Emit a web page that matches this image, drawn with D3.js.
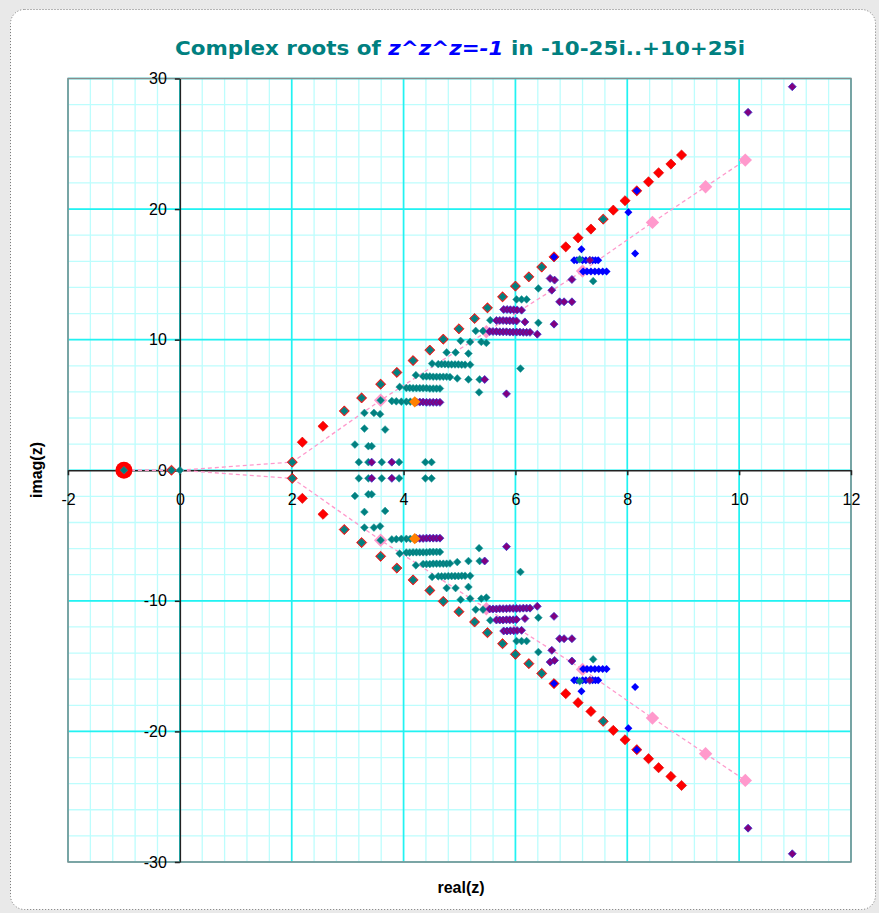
<!DOCTYPE html>
<html lang="en">
<head>
<meta charset="UTF-8">
<title>Complex roots of z^z^z=-1</title>
<script src="https://d3js.org/d3.v7.min.js"></script>
<style>
  body, html { margin: 0; padding: 0; background: #e9e9e9; }
  svg { display: block; }
  .tick text { font: 16px "Liberation Sans", Arial, sans-serif; fill: #000; }
  .axis-title { font: bold 16px "Liberation Sans", Arial, sans-serif; fill: #000; }
</style>
</head>
<body>
<div id="chart"></div>
<script>
// ---- data ----
const xTicks = [-2, 0, 2, 4, 6, 8, 10, 12];
const yTicks = [-30, -20, -10, 0, 10, 20, 30];

const redBig = [[-1, 0]];
const redUpper = [[-0.15,0],[2.01,0.62],[2.19,2.15],[2.56,3.37],[2.94,4.54],[3.25,5.54],[3.59,6.59],[3.88,7.49],[4.17,8.40],[4.47,9.20],[4.71,10.04],[4.99,10.83],[5.27,11.62],[5.50,12.44],[5.77,13.28],[6.00,14.10],[6.24,14.81],[6.47,15.56],[6.69,16.34],[6.90,17.11],[7.12,17.80],[7.35,18.47],[7.57,19.23],[7.75,19.92],[7.96,20.64],[8.17,21.40],[8.38,22.09],[8.56,22.78],[8.78,23.45],[8.97,24.14]];
const redLower = [[2.01,-0.62],[2.19,-2.15],[2.56,-3.37],[2.94,-4.54],[3.25,-5.54],[3.59,-6.59],[3.88,-7.49],[4.17,-8.40],[4.47,-9.20],[4.71,-10.04],[4.99,-10.83],[5.27,-11.62],[5.50,-12.44],[5.77,-13.28],[6.00,-14.10],[6.24,-14.81],[6.47,-15.56],[6.69,-16.34],[6.90,-17.11],[7.12,-17.80],[7.35,-18.47],[7.57,-19.23],[7.75,-19.92],[7.96,-20.64],[8.17,-21.40],[8.38,-22.09],[8.56,-22.78],[8.78,-23.45],[8.97,-24.14]];

const pinkPathUpper = [[-1,0],[0,0],[2.01,0.62],[3.59,5.36],[5.48,10.60],[7.20,15.25],[8.45,18.98],[9.40,21.71],[10.11,23.75]];
const pinkPathLower = [[-1,0],[0,0],[2.01,-0.62],[3.59,-5.36],[5.48,-10.60],[7.20,-15.25],[8.45,-18.98],[9.40,-21.71],[10.11,-23.75]];
const pinkMarks = [[3.59,5.36],[5.48,10.60],[7.20,15.25],[8.45,18.98],[9.40,21.71],[10.11,23.75],[3.59,-5.36],[5.48,-10.60],[7.20,-15.25],[8.45,-18.98],[9.40,-21.71],[10.11,-23.75]];

const blueUpper = [[8.17,21.40],[8.02,19.75],[8.14,16.60],[6.69,16.34],[7.18,16.93],
  [7.05,16.09],[7.10,16.09],[7.20,16.09],[7.26,16.09],[7.38,16.09],[7.43,16.09],[7.48,16.09],
  [7.21,15.22],[7.28,15.22],[7.35,15.22],[7.42,15.22],[7.49,15.22],[7.56,15.22],[7.63,15.22]];
const blueLower = [[8.17,-21.40],[8.02,-19.75],[8.14,-16.60],[6.69,-16.34],[7.18,-16.93],
  [7.05,-16.09],[7.10,-16.09],[7.20,-16.09],[7.26,-16.09],[7.38,-16.09],[7.43,-16.09],[7.48,-16.09],
  [7.21,-15.22],[7.28,-15.22],[7.35,-15.22],[7.42,-15.22],[7.49,-15.22],[7.56,-15.22],[7.63,-15.22]];

const tealAxis = [[-1,0],[-0.15,0],[0,0]];
const tealUpper = [[2.01,0.62],[2.94,4.54],[3.25,5.54],[3.59,6.59],[3.88,7.49],[4.17,8.40],[4.47,9.20],[4.71,10.04],[4.99,10.83],[5.27,11.62],[5.50,12.44],[5.77,13.28],[6.00,14.10],[6.24,14.81],[6.47,15.56],[7.57,19.23],
  [3.20,0.62],[3.37,0.62],[3.61,0.62],[3.92,0.62],[4.39,0.62],[4.50,0.62],
  [3.13,1.97],[3.37,1.84],[3.43,1.84],
  [3.30,3.19],[3.67,3.12],
  [3.30,4.39],[3.47,4.39],[3.58,4.29],
  [3.59,5.36],[3.79,5.30],[3.87,5.28],[3.96,5.25],[4.05,5.25],[4.12,5.25],
  [3.93,6.38],[4.05,6.30],[4.11,6.30],[4.17,6.28],[4.23,6.28],[4.29,6.28],[4.35,6.28],[4.41,6.28],[4.47,6.26],[4.53,6.26],[4.59,6.26],[4.65,6.26],
  [4.22,7.28],[4.35,7.18],[4.41,7.18],[4.47,7.18],[4.53,7.16],[4.59,7.16],[4.65,7.16],[4.71,7.16],[4.77,7.16],[4.83,7.14],[4.96,7.03],[5.16,6.95],[5.36,6.95],
  [4.51,8.17],[4.62,8.12],[4.68,8.12],[4.74,8.12],[4.80,8.10],[4.86,8.10],[4.92,8.10],[4.98,8.10],[5.04,8.08],[5.10,8.08],[5.19,8.08],
  [4.77,9.02],[4.93,9.02],[5.16,8.94],
  [5.02,9.91],[5.19,9.83],[5.39,9.83],[5.48,9.75],
  [5.29,10.67],[5.42,10.67],
  [5.55,11.49],[6.41,11.29],
  [6.02,13.08],[6.11,13.08],[6.20,13.08],
  [6.41,13.92],[6.09,7.79],[5.35,5.97],[7.15,16.15],[7.39,14.48]];
const tealLower = [[2.01,-0.62],[2.94,-4.54],[3.25,-5.54],[3.59,-6.59],[3.88,-7.49],[4.17,-8.40],[4.47,-9.20],[4.71,-10.04],[4.99,-10.83],[5.27,-11.62],[5.50,-12.44],[5.77,-13.28],[6.00,-14.10],[6.24,-14.81],[6.47,-15.56],[7.57,-19.23],
  [3.20,-0.62],[3.37,-0.62],[3.61,-0.62],[3.92,-0.62],[4.39,-0.62],[4.50,-0.62],
  [3.13,-1.97],[3.37,-1.84],[3.43,-1.84],
  [3.30,-3.19],[3.67,-3.12],
  [3.30,-4.39],[3.47,-4.39],[3.58,-4.29],
  [3.59,-5.36],[3.79,-5.30],[3.87,-5.28],[3.96,-5.25],[4.05,-5.25],[4.12,-5.25],
  [3.93,-6.38],[4.05,-6.30],[4.11,-6.30],[4.17,-6.28],[4.23,-6.28],[4.29,-6.28],[4.35,-6.28],[4.41,-6.28],[4.47,-6.26],[4.53,-6.26],[4.59,-6.26],[4.65,-6.26],
  [4.22,-7.28],[4.35,-7.18],[4.41,-7.18],[4.47,-7.18],[4.53,-7.16],[4.59,-7.16],[4.65,-7.16],[4.71,-7.16],[4.77,-7.16],[4.83,-7.14],[4.96,-7.03],[5.16,-6.95],[5.36,-6.95],
  [4.51,-8.17],[4.62,-8.12],[4.68,-8.12],[4.74,-8.12],[4.80,-8.10],[4.86,-8.10],[4.92,-8.10],[4.98,-8.10],[5.04,-8.08],[5.10,-8.08],[5.19,-8.08],
  [4.77,-9.02],[4.93,-9.02],[5.16,-8.94],
  [5.02,-9.91],[5.19,-9.83],[5.39,-9.83],[5.48,-9.75],
  [5.29,-10.67],[5.42,-10.67],
  [5.55,-11.49],[6.41,-11.29],
  [6.02,-13.08],[6.11,-13.08],[6.20,-13.08],
  [6.41,-13.92],[6.09,-7.79],[5.35,-5.97],[7.15,-16.15],[7.39,-14.48]];

const purpleUpper = [[3.43,0.62],[3.79,0.62],
  [4.23,5.22],[4.29,5.22],[4.35,5.22],[4.41,5.20],[4.47,5.20],[4.53,5.20],[4.59,5.20],[4.65,5.20],
  [5.54,10.62],[5.60,10.62],[5.66,10.62],[5.72,10.60],[5.78,10.60],[5.84,10.60],[5.90,10.58],[5.96,10.58],[6.02,10.58],[6.08,10.58],[6.14,10.56],[6.20,10.56],[6.26,10.56],[6.39,10.42],
  [5.66,11.47],[5.72,11.47],[5.78,11.47],[5.84,11.45],[5.90,11.45],[5.96,11.45],[6.02,11.43],[6.17,11.36],[6.69,11.19],
  [5.79,12.31],[5.85,12.31],[5.91,12.29],[5.97,12.29],[6.03,12.28],[6.11,12.26],
  [6.62,14.69],[6.70,14.56],[7.01,14.61],[6.65,13.79],[6.79,12.90],[6.87,12.90],[7.01,12.90],
  [5.84,5.85],[5.45,6.95],[7.33,16.09],[10.16,27.41],[10.95,29.37]];
const purpleLower = [[3.43,-0.62],[3.79,-0.62],
  [4.23,-5.22],[4.29,-5.22],[4.35,-5.22],[4.41,-5.20],[4.47,-5.20],[4.53,-5.20],[4.59,-5.20],[4.65,-5.20],
  [5.54,-10.62],[5.60,-10.62],[5.66,-10.62],[5.72,-10.60],[5.78,-10.60],[5.84,-10.60],[5.90,-10.58],[5.96,-10.58],[6.02,-10.58],[6.08,-10.58],[6.14,-10.56],[6.20,-10.56],[6.26,-10.56],[6.39,-10.42],
  [5.66,-11.47],[5.72,-11.47],[5.78,-11.47],[5.84,-11.45],[5.90,-11.45],[5.96,-11.45],[6.02,-11.43],[6.17,-11.36],[6.69,-11.19],
  [5.79,-12.31],[5.85,-12.31],[5.91,-12.29],[5.97,-12.29],[6.03,-12.28],[6.11,-12.26],
  [6.62,-14.69],[6.70,-14.56],[7.01,-14.61],[6.65,-13.79],[6.79,-12.90],[6.87,-12.90],[7.01,-12.90],
  [5.84,-5.85],[5.45,-6.95],[7.33,-16.09],[10.16,-27.41],[10.95,-29.37]];

const orange = [[4.20,5.24],[4.20,-5.24]];

// ---- layout ----
const width = 879, height = 913;
const plot = { left: 68, right: 851, top: 78.5, bottom: 862 };

const svg = d3.select('#chart').append('svg')
    .attr('width', width)
    .attr('height', height);

svg.append('rect')
    .attr('width', width).attr('height', height)
    .attr('fill', '#e9e9e9');

svg.append('rect')
    .attr('x', 10.5).attr('y', 9.5)
    .attr('width', 865).attr('height', 900)
    .attr('rx', 14).attr('ry', 14)
    .attr('fill', '#fff')
    .attr('stroke', '#777')
    .attr('stroke-dasharray', '1,2');

const x = d3.scaleLinear().domain([-2, 12]).range([plot.left, plot.right]);
const y = d3.scaleLinear().domain([-30, 30]).range([plot.bottom, plot.top]);

// grid
const grid = svg.append('g');
const minorX = d3.range(-2, 12.001, 0.4);
const minorY = d3.range(-30, 30.001, 2);

grid.selectAll('.mx').data(minorX).enter().append('line')
    .attr('x1', d => x(d)).attr('x2', d => x(d))
    .attr('y1', plot.top).attr('y2', plot.bottom)
    .attr('stroke', '#bdfdfd').attr('stroke-width', 1.3);
grid.selectAll('.my').data(minorY).enter().append('line')
    .attr('y1', d => y(d)).attr('y2', d => y(d))
    .attr('x1', plot.left).attr('x2', plot.right)
    .attr('stroke', '#bdfdfd').attr('stroke-width', 1.3);
grid.selectAll('.Mx').data(xTicks).enter().append('line')
    .attr('x1', d => x(d)).attr('x2', d => x(d))
    .attr('y1', plot.top).attr('y2', plot.bottom)
    .attr('stroke', '#22f2f2').attr('stroke-width', 1.7);
grid.selectAll('.My').data(yTicks).enter().append('line')
    .attr('y1', d => y(d)).attr('y2', d => y(d))
    .attr('x1', plot.left).attr('x2', plot.right)
    .attr('stroke', '#22f2f2').attr('stroke-width', 1.7);

svg.append('rect')
    .attr('x', plot.left).attr('y', plot.top)
    .attr('width', plot.right - plot.left).attr('height', plot.bottom - plot.top)
    .attr('fill', 'none').attr('stroke', '#8a8a8a').attr('stroke-width', 1.5);

// axes through the origin
const fmt = d => String(d);
const xAxis = svg.append('g')
    .attr('transform', `translate(0,${y(0)})`)
    .call(d3.axisBottom(x).tickValues(xTicks).tickFormat(fmt).tickSize(5).tickSizeOuter(0).tickPadding(18));
const yAxis = svg.append('g')
    .attr('transform', `translate(${x(0)},0)`)
    .call(d3.axisLeft(y).tickValues(yTicks).tickFormat(fmt).tickSize(5).tickSizeOuter(0).tickPadding(8));
[xAxis, yAxis].forEach(a => {
    a.selectAll('path, line').attr('stroke', '#222').attr('stroke-width', 1.5);
});

// pink dashed path
const line = d3.line().x(d => x(d[0])).y(d => y(d[1]));
[pinkPathUpper, pinkPathLower].forEach(p => {
    svg.append('path')
        .attr('d', line(p))
        .attr('fill', 'none')
        .attr('stroke', '#ff99cc')
        .attr('stroke-width', 1.3)
        .attr('stroke-dasharray', '4,3');
});

const diamond = d3.symbol().type(d3.symbolSquare);

function points(data, size, fill, stroke, sw) {
    svg.append('g').selectAll('path')
        .data(data)
        .enter().append('path')
        .attr('d', diamond.size(size)())
        .attr('transform', d => `translate(${x(d[0])},${y(d[1])}) rotate(45)`)
        .attr('fill', fill)
        .attr('stroke', stroke || 'none')
        .attr('stroke-width', sw || 0);
}

points(pinkMarks, 90, '#ff99cc');

svg.append('g').selectAll('circle')
    .data(redBig)
    .enter().append('circle')
    .attr('cx', d => x(d[0])).attr('cy', d => y(d[1]))
    .attr('r', 8.5)
    .attr('fill', '#ff0000');

points(redUpper.concat(redLower), 52, '#ff0000', '#e00000', 0.6);
points(blueUpper.concat(blueLower), 32, '#0000ff');
points(tealAxis.concat(tealUpper, tealLower), 30, '#008080', '#1a9a9a', 0.5);
points(purpleUpper.concat(purpleLower), 32, '#800080', '#3030d0', 0.7);
points(orange, 64, '#ff8000');

// title
const title = svg.append('text')
    .attr('x', 460).attr('y', 55)
    .attr('text-anchor', 'middle')
    .attr('textLength', 570)
    .attr('lengthAdjust', 'spacingAndGlyphs')
    .style('font', 'bold 19px "DejaVu Sans", sans-serif');
title.append('tspan').attr('fill', '#008080').text('Complex roots of ');
title.append('tspan').attr('fill', '#0000ff').style('font-style', 'italic').text('z^z^z=-1');
title.append('tspan').attr('fill', '#008080').text(' in -10-25i..+10+25i');

svg.append('text')
    .attr('class', 'axis-title')
    .attr('text-anchor', 'middle')
    .attr('transform', 'translate(42,470) rotate(-90)')
    .text('imag(z)');

svg.append('text')
    .attr('class', 'axis-title')
    .attr('text-anchor', 'middle')
    .attr('x', 461).attr('y', 893)
    .text('real(z)');
</script>
</body>
</html>
